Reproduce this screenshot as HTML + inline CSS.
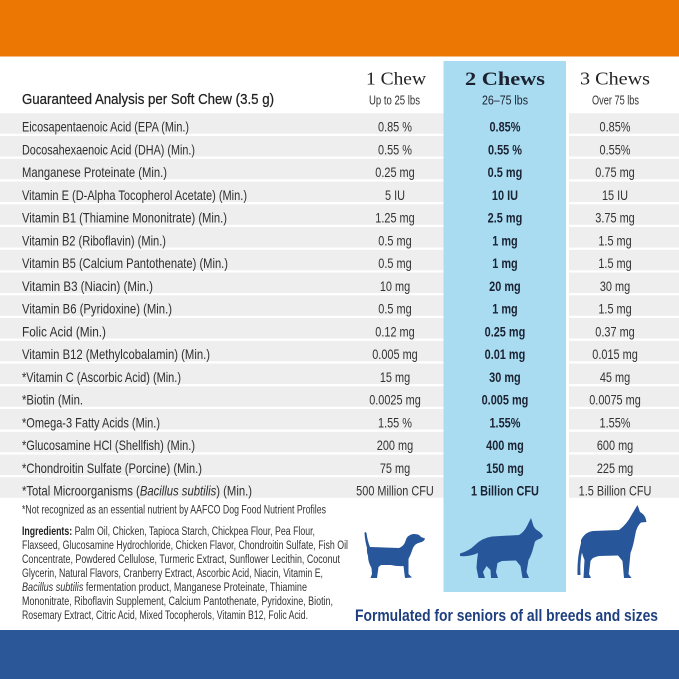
<!DOCTYPE html>
<html><head><meta charset="utf-8"><style>
html,body{margin:0;padding:0;background:#fff;}
svg{display:block;}
text{font-family:"Liberation Sans",sans-serif;}
</style></head><body>
<svg width="679" height="679" viewBox="0 0 679 679" xmlns="http://www.w3.org/2000/svg">
<rect x="0" y="0" width="679" height="679" fill="#ffffff"/>
<rect x="0" y="0" width="679" height="56.5" fill="#EC7703"/>
<!-- rows -->
<g fill="#EEEEEE">
<rect x="0" y="113.3" width="679" height="20.5"/>
<rect x="0" y="136.05" width="679" height="20.5"/>
<rect x="0" y="158.8" width="679" height="20.5"/>
<rect x="0" y="181.55" width="679" height="20.5"/>
<rect x="0" y="204.3" width="679" height="20.5"/>
<rect x="0" y="227.05" width="679" height="20.5"/>
<rect x="0" y="249.8" width="679" height="20.5"/>
<rect x="0" y="272.55" width="679" height="20.5"/>
<rect x="0" y="295.3" width="679" height="20.5"/>
<rect x="0" y="318.05" width="679" height="20.5"/>
<rect x="0" y="340.8" width="679" height="20.5"/>
<rect x="0" y="363.55" width="679" height="20.5"/>
<rect x="0" y="386.3" width="679" height="20.5"/>
<rect x="0" y="409.05" width="679" height="20.5"/>
<rect x="0" y="431.8" width="679" height="20.5"/>
<rect x="0" y="454.55" width="679" height="20.5"/>
<rect x="0" y="477.3" width="679" height="20.5"/>
</g>
<rect x="566" y="100" width="3" height="400" fill="#ffffff"/>
<rect x="443.5" y="61" width="122.5" height="531" fill="#A9DCF1"/>

<!-- header -->
<text x="22" y="104" font-size="14.5" fill="#222" stroke="#222" stroke-width="0.25" textLength="252" lengthAdjust="spacingAndGlyphs">Guaranteed Analysis per Soft Chew (3.5  g)</text>
<text x="366" y="84.5" font-family="Liberation Serif, serif" font-size="18" fill="#222" textLength="60" lengthAdjust="spacingAndGlyphs" style="font-family:'Liberation Serif',serif">1 Chew</text>
<text x="465" y="85" font-size="19" font-weight="bold" fill="#1d2230" textLength="80" lengthAdjust="spacingAndGlyphs" style="font-family:'Liberation Serif',serif">2 Chews</text>
<text x="580" y="84.5" font-size="18" fill="#222" textLength="70" lengthAdjust="spacingAndGlyphs" style="font-family:'Liberation Serif',serif">3 Chews</text>
<text x="369" y="104.5" font-size="13" fill="#333" textLength="51" lengthAdjust="spacingAndGlyphs">Up to 25 lbs</text>
<text x="482" y="104.5" font-size="13" fill="#1d2230" textLength="46" lengthAdjust="spacingAndGlyphs">26–75 lbs</text>
<text x="592" y="104.5" font-size="13" fill="#333" textLength="47" lengthAdjust="spacingAndGlyphs">Over 75 lbs</text>

<!-- labels -->
<g font-size="14" fill="#2e2e2e">
<text x="22" y="131.6" textLength="167" lengthAdjust="spacingAndGlyphs">Eicosapentaenoic Acid (EPA (Min.)</text>
<text x="22" y="154.35" textLength="173" lengthAdjust="spacingAndGlyphs">Docosahexaenoic Acid (DHA) (Min.)</text>
<text x="22" y="177.1" textLength="145" lengthAdjust="spacingAndGlyphs">Manganese Proteinate (Min.)</text>
<text x="22" y="199.85" textLength="225" lengthAdjust="spacingAndGlyphs">Vitamin E (D-Alpha Tocopherol Acetate) (Min.)</text>
<text x="22" y="222.6" textLength="205" lengthAdjust="spacingAndGlyphs">Vitamin B1 (Thiamine Mononitrate) (Min.)</text>
<text x="22" y="245.35" textLength="144" lengthAdjust="spacingAndGlyphs">Vitamin B2 (Riboflavin) (Min.)</text>
<text x="22" y="268.1" textLength="206" lengthAdjust="spacingAndGlyphs">Vitamin B5 (Calcium Pantothenate) (Min.)</text>
<text x="22" y="290.85" textLength="131" lengthAdjust="spacingAndGlyphs">Vitamin B3 (Niacin) (Min.)</text>
<text x="22" y="313.6" textLength="150" lengthAdjust="spacingAndGlyphs">Vitamin B6 (Pyridoxine) (Min.)</text>
<text x="22" y="336.35" textLength="84" lengthAdjust="spacingAndGlyphs">Folic Acid (Min.)</text>
<text x="22" y="359.1" textLength="188" lengthAdjust="spacingAndGlyphs">Vitamin B12 (Methylcobalamin) (Min.)</text>
<text x="22" y="381.85" textLength="159" lengthAdjust="spacingAndGlyphs">*Vitamin C (Ascorbic Acid) (Min.)</text>
<text x="22" y="404.6" textLength="61" lengthAdjust="spacingAndGlyphs">*Biotin (Min.</text>
<text x="22" y="427.35" textLength="138" lengthAdjust="spacingAndGlyphs">*Omega-3 Fatty Acids (Min.)</text>
<text x="22" y="450.1" textLength="173" lengthAdjust="spacingAndGlyphs">*Glucosamine HCl (Shellfish) (Min.)</text>
<text x="22" y="472.85" textLength="180" lengthAdjust="spacingAndGlyphs">*Chondroitin Sulfate (Porcine) (Min.)</text>
<text x="22" y="495.6" textLength="230" lengthAdjust="spacingAndGlyphs">*Total Microorganisms (<tspan font-style="italic">Bacillus subtilis</tspan>) (Min.)</text>
</g>

<!-- col1 values -->
<g transform="scale(0.78,1)" font-size="14" fill="#333" text-anchor="middle">
<text x="506.4" y="131.6">0.85 %</text>
<text x="506.4" y="154.35">0.55 %</text>
<text x="506.4" y="177.1">0.25 mg</text>
<text x="506.4" y="199.85">5 IU</text>
<text x="506.4" y="222.6">1.25 mg</text>
<text x="506.4" y="245.35">0.5 mg</text>
<text x="506.4" y="268.1">0.5 mg</text>
<text x="506.4" y="290.85">10 mg</text>
<text x="506.4" y="313.6">0.5 mg</text>
<text x="506.4" y="336.35">0.12 mg</text>
<text x="506.4" y="359.1">0.005 mg</text>
<text x="506.4" y="381.85">15 mg</text>
<text x="506.4" y="404.6">0.0025 mg</text>
<text x="506.4" y="427.35">1.55 %</text>
<text x="506.4" y="450.1">200 mg</text>
<text x="506.4" y="472.85">75 mg</text>
<text x="506.4" y="495.6">500 Million CFU</text>
</g>
<!-- col2 values -->
<g transform="scale(0.78,1)" font-size="14" font-weight="bold" fill="#1b2232" text-anchor="middle">
<text x="647.4" y="131.6">0.85%</text>
<text x="647.4" y="154.35">0.55 %</text>
<text x="647.4" y="177.1">0.5 mg</text>
<text x="647.4" y="199.85">10 IU</text>
<text x="647.4" y="222.6">2.5 mg</text>
<text x="647.4" y="245.35">1 mg</text>
<text x="647.4" y="268.1">1 mg</text>
<text x="647.4" y="290.85">20 mg</text>
<text x="647.4" y="313.6">1 mg</text>
<text x="647.4" y="336.35">0.25 mg</text>
<text x="647.4" y="359.1">0.01 mg</text>
<text x="647.4" y="381.85">30 mg</text>
<text x="647.4" y="404.6">0.005 mg</text>
<text x="647.4" y="427.35">1.55%</text>
<text x="647.4" y="450.1">400 mg</text>
<text x="647.4" y="472.85">150 mg</text>
<text x="647.4" y="495.6">1 Billion CFU</text>
</g>
<!-- col3 values -->
<g transform="scale(0.78,1)" font-size="14" fill="#333" text-anchor="middle">
<text x="788.5" y="131.6">0.85%</text>
<text x="788.5" y="154.35">0.55%</text>
<text x="788.5" y="177.1">0.75 mg</text>
<text x="788.5" y="199.85">15 IU</text>
<text x="788.5" y="222.6">3.75 mg</text>
<text x="788.5" y="245.35">1.5 mg</text>
<text x="788.5" y="268.1">1.5 mg</text>
<text x="788.5" y="290.85">30 mg</text>
<text x="788.5" y="313.6">1.5 mg</text>
<text x="788.5" y="336.35">0.37 mg</text>
<text x="788.5" y="359.1">0.015 mg</text>
<text x="788.5" y="381.85">45 mg</text>
<text x="788.5" y="404.6">0.0075 mg</text>
<text x="788.5" y="427.35">1.55%</text>
<text x="788.5" y="450.1">600 mg</text>
<text x="788.5" y="472.85">225 mg</text>
<text x="788.5" y="495.6">1.5 Billion CFU</text>
</g>

<!-- footnote & ingredients -->
<g font-size="11.5" fill="#333">
<text x="22" y="513.5" textLength="304" lengthAdjust="spacingAndGlyphs">*Not recognized as an essential nutrient by AAFCO Dog Food Nutrient Profiles</text>
<text x="22" y="535" textLength="293" lengthAdjust="spacingAndGlyphs"><tspan font-weight="bold" fill="#222">Ingredients:</tspan> Palm Oil, Chicken, Tapioca Starch, Chickpea Flour, Pea Flour,</text>
<text x="22" y="549" textLength="326" lengthAdjust="spacingAndGlyphs">Flaxseed, Glucosamine Hydrochloride, Chicken Flavor, Chondroitin Sulfate, Fish Oil</text>
<text x="22" y="563" textLength="318" lengthAdjust="spacingAndGlyphs">Concentrate, Powdered Cellulose, Turmeric Extract, Sunflower Lecithin, Coconut</text>
<text x="22" y="577" textLength="301" lengthAdjust="spacingAndGlyphs">Glycerin, Natural Flavors, Cranberry Extract, Ascorbic Acid, Niacin, Vitamin E,</text>
<text x="22" y="591" textLength="285" lengthAdjust="spacingAndGlyphs"><tspan font-style="italic">Bacillus subtilis</tspan> fermentation product, Manganese Proteinate, Thiamine</text>
<text x="22" y="605" textLength="311" lengthAdjust="spacingAndGlyphs">Mononitrate, Riboflavin Supplement, Calcium Pantothenate, Pyridoxine, Biotin,</text>
<text x="22" y="619" textLength="286" lengthAdjust="spacingAndGlyphs">Rosemary Extract, Citric Acid, Mixed Tocopherols, Vitamin B12, Folic Acid.</text>
</g>

<!-- dogs -->
<g fill="#27569A">
<!-- small dog -->
<path d="M367,548 Q365,541 364.5,533 Q365,531 366.5,533 Q367.5,541 370,547 L399,548 Q404,546 405.5,541 Q407,535 413,534 Q419,533.5 421,537 L425,538.5 Q424.5,541.5 420,542.5 Q415,543.5 413,548 Q411,554 408.5,559 L408.5,574 L412,577.5 L405,578 L403.5,566 Q397,566.5 391,565 L381,565 L378.5,567 L377,578 L370.5,578 L372,574 L371.5,568 Q368,562 368,556 Q366.5,552 367,548 Z"/>
<path d="M410,538 Q407,541 408,549 Q411,546 412,541 Z"/>
<!-- medium dog -->
<path d="M460,553.5 Q469,551 475,545 Q482,538 492,536.5 L519,535 Q524,532 527,526 L531,518 L533.5,526 Q535,529 537.5,530.5 Q541,532.5 543,536 L540.5,538.5 Q537,539.5 535,541.5 L533.5,547 Q531.5,555 528.5,560 L526.5,572 L529,578 L522.5,578 L520.5,566 L516,560.5 L502,561 L497.5,563 L496,572 L498,578 L491,578 L490.5,570 L486.5,566 L483,572 L485,578 L478.5,578 L476.5,568 Q477,559 478,553 Q469,557 460,556 Z"/>
<!-- large dog -->
<path d="M581,540 Q585,532 593,531 L619,530 Q627,524 631.5,515 L637.5,505 L640,512 Q644,514 645.5,518 L646.5,522 L641,522.5 Q638,525 636,531 L634,541 Q632.5,548 630.5,553 L628.5,574 L631.5,578 L624,578 L622.5,561 L618,555.5 L599,556 Q592.5,557 590.5,561 L589,574 L591,578 L583.5,578 L584.5,560 Q581,552 581,545 Z"/>
<path d="M582,540 Q577,555 577.5,575 L580.5,575 Q579.5,557 584,546 Z"/>
</g>

<text x="355" y="621" font-size="16.5" font-weight="bold" fill="#1E3F7F" textLength="303" lengthAdjust="spacingAndGlyphs">Formulated for seniors of all breeds and sizes</text>

<rect x="0" y="630" width="679" height="49" fill="#2B5697"/>
</svg>
</body></html>
